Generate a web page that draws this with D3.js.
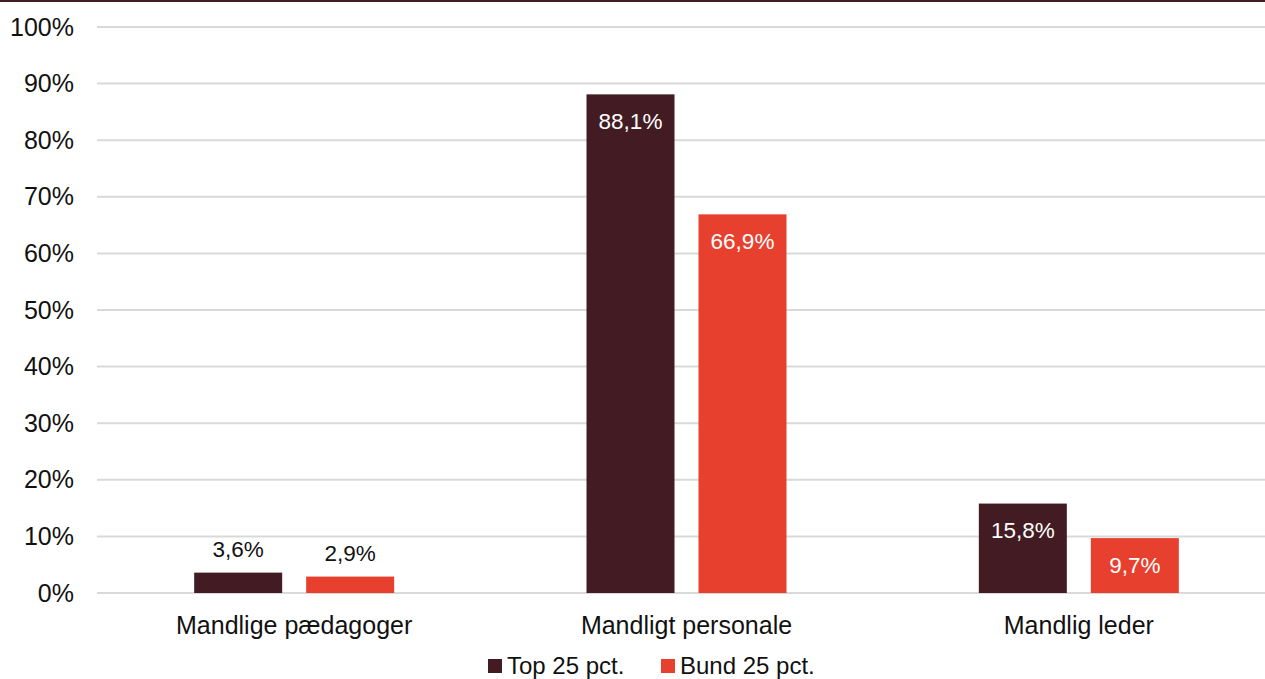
<!DOCTYPE html>
<html><head><meta charset="utf-8">
<script src="https://cdn.jsdelivr.net/npm/d3@7"></script>
<style>html,body{margin:0;padding:0;background:#fff;overflow:hidden}svg{display:block;font-family:"Liberation Sans",Arial,sans-serif}</style>
</head><body>
<svg id="c" width="1265" height="679"></svg>
<script>
const categories = ["Mandlige pædagoger", "Mandligt personale", "Mandlig leder"];
const seriesNames = ["Top 25 pct.", "Bund 25 pct."];
const top25 = [3.6, 88.1, 15.8];
const bund25 = [2.9, 66.9, 9.7];
const yTicks = [0, 10, 20, 30, 40, 50, 60, 70, 80, 90, 100];
const colors = ["#431c23", "#e8402f"];

const FONT = '"Liberation Sans", Arial, sans-serif';
const svg = d3.select("#c");
const W = 1265, H = 679;
svg.append("rect").attr("x", 0).attr("y", 0).attr("width", W).attr("height", 2).attr("fill", "#431c23");

const y = d3.scaleLinear().domain([0, 100]).range([593, 27]);
const x0 = d3.scaleBand().domain(categories).range([98, 1275]).paddingInner(0).paddingOuter(0);

// grid
const gridL = 97, gridR = 1265;
svg.append("g").selectAll("line").data(yTicks).join("line")
  .attr("x1", gridL).attr("x2", gridR)
  .attr("y1", d => y(d)).attr("y2", d => y(d))
  .attr("stroke", "#d9d9d9").attr("stroke-width", 2);

// y axis labels
const yAxis = d3.axisLeft(y).tickValues(yTicks).tickSize(0).tickPadding(0).tickFormat(d => d + "%");
const ya = svg.append("g").attr("transform", "translate(74,-1)").call(yAxis);
ya.select(".domain").remove();
ya.selectAll("text").attr("font-size", 25).attr("fill", "#111").attr("font-family", FONT)
  .attr("dy", 0).attr("dominant-baseline", "central");

const data = categories.map((c, i) => ({cat: c, vals: [top25[i], bund25[i]]}));
const pairW = 200;
const groups = svg.append("g").selectAll("g").data(data).join("g")
  .attr("transform", d => `translate(${x0(d.cat) + x0.bandwidth()/2 - pairW/2},0)`);

const bw = 88;
const offs = [0, 112];
groups.each(function(d) {
  const g = d3.select(this);
  d.vals.forEach((v, j) => {
    const bx = offs[j];
    g.append("rect").attr("x", bx).attr("y", y(v)).attr("width", bw).attr("height", y(0) - y(v))
      .attr("fill", colors[j]);
    const inside = (y(0) - y(v)) > 40;
    g.append("text").attr("x", bx + bw/2)
      .attr("y", inside ? y(v) + 27 : y(v) - 23)
      .attr("text-anchor", "middle").attr("dominant-baseline", "central")
      .attr("font-size", 22.5).attr("fill", inside ? "#fff" : "#111")
      .text(String(v.toFixed(1)).replace(".", ",") + "%");
  });
});

// category axis
const xa = svg.append("g").attr("transform", "translate(0,593)").call(d3.axisBottom(x0).tickSize(0).tickPadding(0));
xa.select(".domain").remove();
xa.selectAll("text").attr("font-size", 25).attr("fill", "#111").attr("font-family", FONT)
  .attr("dy", 0).attr("y", 32).attr("dominant-baseline", "central");

// legend
const leg = svg.append("g");
const legX = [488, 661];
seriesNames.forEach((s, j) => {
  leg.append("rect").attr("x", legX[j]).attr("y", 659).attr("width", 14).attr("height", 14).attr("fill", colors[j]);
  leg.append("text").attr("x", legX[j] + 19).attr("y", 665).attr("dominant-baseline", "central")
    .attr("font-size", 24).attr("fill", "#111").text(s);
});
</script>
</body></html>
